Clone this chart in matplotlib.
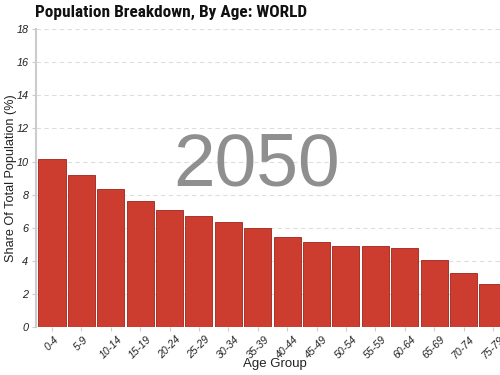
import matplotlib
matplotlib.use("Agg")
import matplotlib.pyplot as plt

age_groups = ["0-4", "5-9", "10-14", "15-19", "20-24", "25-29", "30-34", "35-39",
              "40-44", "45-49", "50-54", "55-59", "60-64", "65-69", "70-74", "75-79"]
share = [10.15, 9.18, 8.33, 7.62, 7.06, 6.7, 6.35, 5.98,
         5.44, 5.13, 4.89, 4.88, 4.78, 4.05, 3.25, 2.64]
yticks = [0, 2, 4, 6, 8, 10, 12, 14, 16, 18]
year = "2050"

plt.rcParams['font.family'] = ['Liberation Sans', 'DejaVu Sans']

fig = plt.figure(figsize=(5, 3.75), dpi=100)
ax = fig.add_axes([0.072, 0.127, 0.928, 0.7957])

x = range(len(age_groups))
ax.bar(x, share, width=0.92, color='#cc3c2f', edgecolor='#a9332a', linewidth=0.7, zorder=2)

ax.set_xlim(-0.544, 15.24)
ax.set_ylim(0, 18)
ax.set_yticks(yticks)
ax.set_yticklabels([str(t) for t in yticks], fontstyle='italic', fontsize=7.8, color='#222222')
ax.set_xticks(list(x))
ax.set_xticklabels(age_groups, rotation=45, ha='center', fontstyle='italic', fontsize=7.6, color='#222222')
ax.tick_params(axis='x', length=3, color='#cccccc', pad=2)
ax.tick_params(axis='y', length=3, color='#cccccc', pad=2.5)

for s in ['top', 'right', 'bottom']:
    ax.spines[s].set_visible(False)
ax.spines['left'].set_color('#cccccc')
ax.spines['left'].set_linewidth(1.5)
ax.grid(axis='y', color='#dddddd', linestyle=(0, (4, 3)), linewidth=0.8, zorder=0)
ax.set_axisbelow(True)

ax.set_ylabel("Share Of Total Population (%)", fontsize=9.1, color='#222222')
ax.yaxis.set_label_coords(-0.041, 0.5)
ax.set_xlabel("Age Group", fontsize=9.5, color='#222222')
ax.xaxis.set_label_coords(0.515, -0.103)

ax.text(0.476, 0.475, year, transform=ax.transAxes, fontsize=54, color='#8f8f8f',
        ha='center', va='baseline', zorder=1)

fig.text(0.07, 0.967, "Population Breakdown, By Age: WORLD", fontsize=12.4, fontweight='bold',
         family=['Roboto Condensed', 'Roboto', 'DejaVu Sans'],
         ha='left', va='center', color='#111111')

fig.savefig("out.png", dpi=100)
